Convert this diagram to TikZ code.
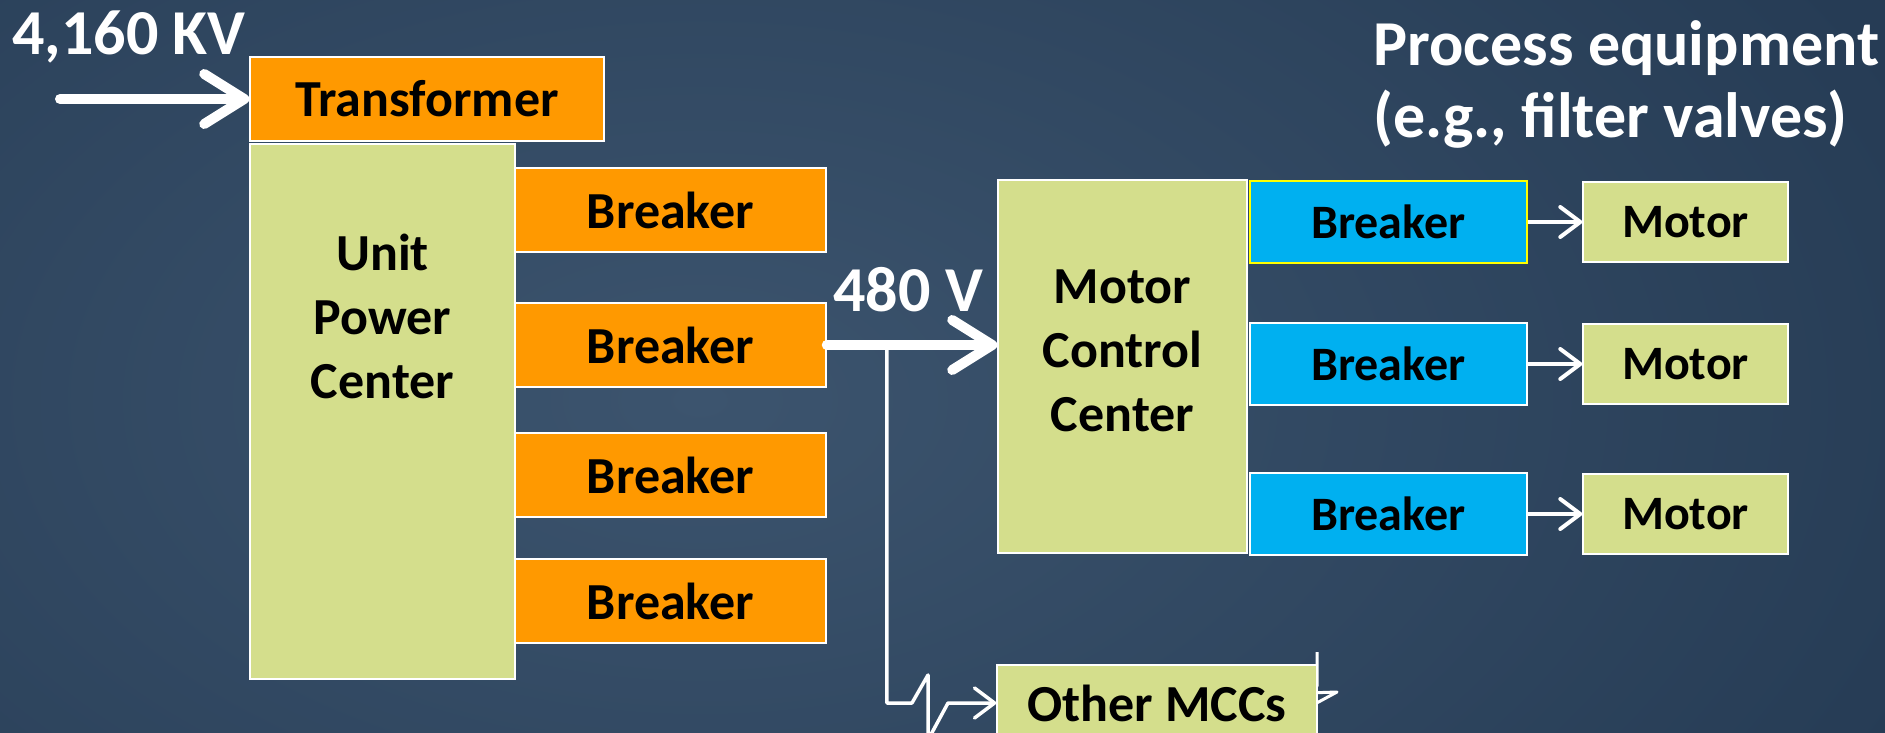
\documentclass[tikz,border=0pt]{standalone}
\usepackage{fontspec}
\setmainfont{Carlito}
\usetikzlibrary{arrows.meta}

\definecolor{fondoA}{RGB}{20,38,60}
\definecolor{fondoB}{RGB}{38,60,85}
\definecolor{fondoC}{RGB}{60,84,110}
\definecolor{naranjaC}{RGB}{255,153,0}
\definecolor{verdeC}{RGB}{212,222,140}
\definecolor{azulC}{RGB}{0,176,240}
\definecolor{amarilloC}{RGB}{255,255,0}
\pgfdeclareradialshading{fondoluz}{\pgfpoint{0bp}{0bp}}{%
  color(0bp)=(fondoC); color(22bp)=(fondoB); color(50bp)=(fondoA)}

\begin{document}
\begin{tikzpicture}[
  x=1pt, y=-1pt,
  caja/.style={draw=white, line width=1.5pt, inner sep=0pt, text=black,
    font=\fontsize{52}{64}\selectfont\bfseries},
  naranja/.style={caja, fill=naranjaC, minimum width=311pt, minimum height=84pt},
  verde/.style={caja, fill=verdeC},
  azul/.style={caja, fill=azulC, minimum width=277pt, minimum height=82pt,
    font=\fontsize{48}{58}\selectfont\bfseries},
  motor/.style={verde, minimum width=205pt, minimum height=80pt,
    font=\fontsize{48}{58}\selectfont\bfseries},
  rotulo/.style={inner sep=0pt, text=white, font=\fontsize{64}{72}\selectfont\bfseries},
  texto/.style={inner sep=0pt, align=center, font=\fontsize{52}{64}\selectfont\bfseries},
  gruesa/.style={white, line width=10pt, line cap=round,
    -{Straight Barb[length=40pt, width=50pt, round]}},
  fina/.style={white, line width=4pt, line join=round,
    -{Straight Barb[length=20pt, width=30pt, round]}}
]
  \clip (0,0) rectangle (1885,733);

  % Fondo
  \fill[fondoA] (0,0) rectangle (1885,733);
  \shade[shading=fondoluz] (700,400) ellipse (1500pt and 900pt);

  % Lado de 4,160 KV
  \node[caja, fill=naranjaC, minimum width=354pt, minimum height=84pt] (trafo) at (427,99) {Transformer};
  \node[verde, minimum width=265pt, minimum height=535pt] (upc) at (382.5,411.5) {};
  \node[texto] (upctexto) at (382.5,316) {Unit\\Power\\Center};
  \foreach \y [count=\i] in {210,345,475,601} {
    \node[naranja] (ob\i) at (670.5,\y) {Breaker};
  }
  \node[rotulo] (kv) at (129,37) {4,160 KV};
  \coordinate (entrada) at (60,99);
  \draw[gruesa] (entrada) -- (trafo.west);

  % Centro de control de motores
  \node[verde, minimum width=249pt, minimum height=373pt] (mcc) at (1122.5,366.5) {};
  \node[texto] (mcctexto) at (1122.5,351) {Motor\\Control\\Center};
  \foreach \y/\borde [count=\i] in {222/amarilloC,364/white,514/white} {
    \node[azul, draw=\borde] (bb\i) at (1388.5,\y) {Breaker};
    \node[motor] (m\i) at (1685.5,\y) {Motor};
    \draw[fina] (bb\i) -- (m\i);
  }
  \node[rotulo, anchor=west, align=left] (proceso) at (1373,84) {Process equipment\\(e.g., filter valves)};

  % 480 V
  \node[rotulo] (v480) at (908,290) {480 V};
  \draw[gruesa] (ob2.east) -- (ob2.east -| mcc.west);

  % Otros MCC
  \draw[white, line width=3pt, line join=round] (1317,652) -- (1317,686) -- (1308,693) -- (1337,692) -- (1313,705);
  \node[verde, minimum width=320pt, minimum height=76pt] (omcc) at (1157,703) {Other MCCs};
  \coordinate (tap) at ([xshift=60pt]ob2.east);
  \coordinate (z1) at (912,703);
  \coordinate (z2) at (928,675);
  \coordinate (z3) at (928,740);
  \coordinate (z4) at (948,703);
  \draw[fina, line width=3.5pt] (tap) |- (z1) -- (z2) -- (z3) -- (z4) -- (omcc.west);
\end{tikzpicture}
\end{document}
